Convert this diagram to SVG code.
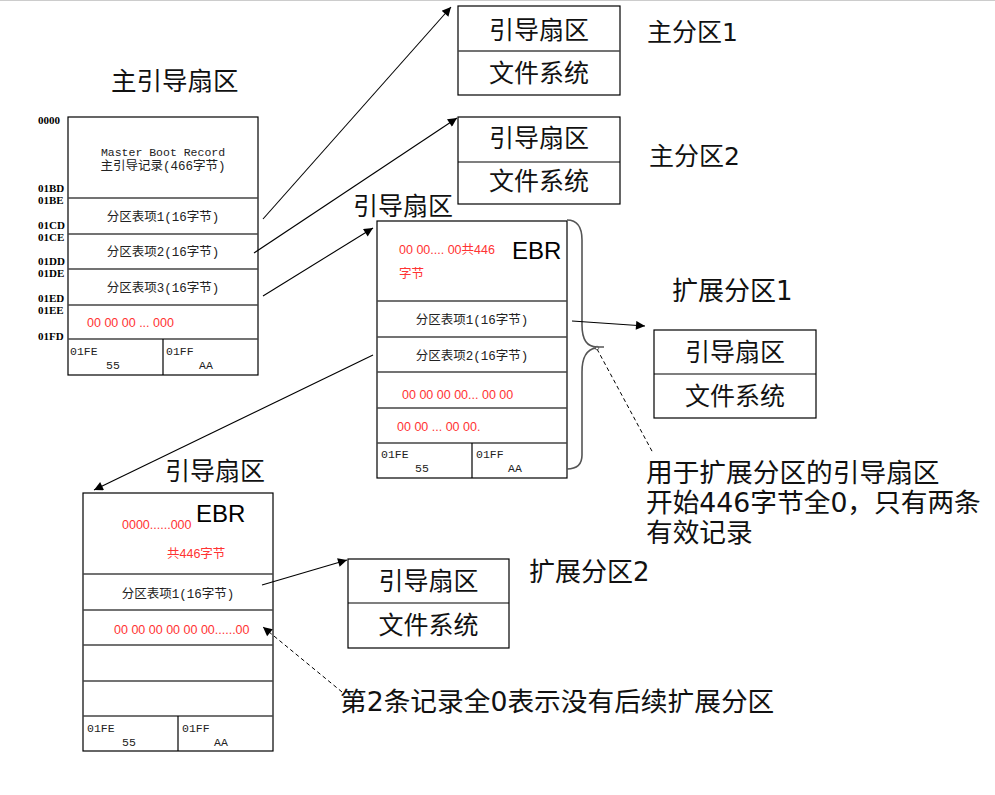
<svg xmlns="http://www.w3.org/2000/svg" width="995" height="795" viewBox="0 0 995 795">
<style>
.box{fill:#fff;stroke:#000;stroke-width:1.2}
.div{stroke:#444;stroke-width:1.5}
.vdiv{stroke:#000;stroke-width:1.2}
.big{font-family:"DejaVu Sans","Noto Sans CJK SC",sans-serif;font-size:25px;fill:#111}
.ext{font-family:"DejaVu Sans","Noto Sans CJK SC",sans-serif;font-size:26px;fill:#111}
.blab{font-family:"DejaVu Sans","Noto Sans CJK SC",sans-serif;font-size:25px;fill:#111;text-anchor:middle}
.note{font-family:"DejaVu Sans","Noto Sans CJK SC",sans-serif;font-size:26.7px;fill:#111}
.sm{font-family:"Liberation Mono","Noto Sans CJK SC",monospace;font-size:12.5px;fill:#222}
.smc{font-family:"Liberation Mono","Noto Sans CJK SC",monospace;font-size:12.5px;fill:#222;text-anchor:middle}
.mono{font-family:"Liberation Mono",monospace;font-size:11.5px;fill:#222}
.red{font-family:"Liberation Sans","Noto Sans CJK SC",sans-serif;font-size:12.5px;fill:#f33}
.addr{font-family:"Liberation Serif",serif;font-size:11px;font-weight:bold;fill:#000}
.ebr{font-family:"Liberation Sans",sans-serif;font-size:24px;fill:#000}
.conn{stroke:#000;stroke-width:1.1;fill:none}
.dash{stroke:#000;stroke-width:1;fill:none;stroke-dasharray:4,3}
.brace{stroke:#555;stroke-width:1.6;fill:none}
</style>
<defs>
<marker id="ah" viewBox="0 0 10 10" refX="10" refY="5" markerWidth="12" markerHeight="9" markerUnits="userSpaceOnUse" orient="auto">
<path d="M0,0 L10,5 L0,10 z" fill="#000"/>
</marker>
</defs>
<line x1="0" y1="0.5" x2="995" y2="0.5" stroke="#ccc" stroke-width="1"/>

<g id="mbr">
<text class="big" x="111" y="90" style="font-size:25.5px">主引导扇区</text>
<rect class="box" x="68" y="117" width="190" height="258"/>
<line class="div" x1="68" y1="198" x2="258" y2="198"/>
<line class="div" x1="68" y1="234" x2="258" y2="234"/>
<line class="div" x1="68" y1="269" x2="258" y2="269"/>
<line class="div" x1="68" y1="305" x2="258" y2="305"/>
<line class="div" x1="68" y1="339" x2="258" y2="339"/>
<line class="vdiv" x1="163" y1="339" x2="163" y2="375"/>
<text class="mono" x="163" y="156" text-anchor="middle">Master Boot Record</text>
<text class="smc" x="163" y="170">主引导记录(466字节)</text>
<text class="smc" x="163" y="221">分区表项1(16字节)</text>
<text class="smc" x="163" y="256">分区表项2(16字节)</text>
<text class="smc" x="163" y="292">分区表项3(16字节)</text>
<text class="red" x="87" y="327">00 00 00 ... 000</text>
<text class="mono" x="70" y="355">01FE</text>
<text class="mono" x="106" y="369">55</text>
<text class="mono" x="166" y="355">01FF</text>
<text class="mono" x="199" y="369">AA</text>
<text class="addr" x="38" y="124">0000</text>
<text class="addr" x="38" y="192">01BD</text>
<text class="addr" x="38" y="204">01BE</text>
<text class="addr" x="38" y="229">01CD</text>
<text class="addr" x="38" y="241">01CE</text>
<text class="addr" x="38" y="265">01DD</text>
<text class="addr" x="38" y="277">01DE</text>
<text class="addr" x="38" y="302">01ED</text>
<text class="addr" x="38" y="314">01EE</text>
<text class="addr" x="38" y="340">01FD</text>
</g>

<g id="primary1">
<rect class="box" x="458" y="6" width="162" height="89"/>
<line class="div" x1="458" y1="51" x2="620" y2="51"/>
<text class="blab" x="539" y="39">引导扇区</text>
<text class="blab" x="539" y="82">文件系统</text>
<text class="big" x="647" y="41">主分区1</text>
</g>

<g id="primary2">
<rect class="box" x="458" y="117" width="162" height="87"/>
<line class="vdiv" x1="458" y1="162" x2="620" y2="162"/>
<text class="blab" x="539" y="147">引导扇区</text>
<text class="blab" x="539" y="190">文件系统</text>
<text class="big" x="649" y="165">主分区2</text>
</g>

<g id="ebr1">
<text class="big" x="353" y="215">引导扇区</text>
<rect class="box" x="377" y="221" width="190" height="257"/>
<line class="div" x1="377" y1="301" x2="567" y2="301"/>
<line class="div" x1="377" y1="337" x2="567" y2="337"/>
<line class="div" x1="377" y1="372" x2="567" y2="372"/>
<line class="div" x1="377" y1="408" x2="567" y2="408"/>
<line class="div" x1="377" y1="443" x2="567" y2="443"/>
<line class="vdiv" x1="472" y1="443" x2="472" y2="478"/>
<text class="red" x="399" y="254">00 00.... 00共446</text>
<text class="red" x="399" y="278">字节</text>
<text class="ebr" x="512" y="259">EBR</text>
<text class="smc" x="472" y="324">分区表项1(16字节)</text>
<text class="smc" x="472" y="360">分区表项2(16字节)</text>
<text class="red" x="402" y="399">00 00 00 00... 00 00</text>
<text class="red" x="397" y="431">00 00 ... 00 00.</text>
<text class="mono" x="381" y="458">01FE</text>
<text class="mono" x="415" y="472">55</text>
<text class="mono" x="476" y="458">01FF</text>
<text class="mono" x="508" y="472">AA</text>
<path class="brace" d="M567,220 Q582,220 582,240 L582,325 Q582,347 597,347 L604,347 M596,348 Q582,350 582,372 L582,455 Q582,469 567,469"/>
</g>

<g id="ext1">
<text class="ext" x="672" y="300">扩展分区1</text>
<rect class="box" x="654" y="330" width="162" height="88"/>
<line class="vdiv" x1="654" y1="374" x2="816" y2="374"/>
<text class="blab" x="735" y="361">引导扇区</text>
<text class="blab" x="735" y="405">文件系统</text>
</g>

<g id="note1">
<text class="note" x="646" y="482">用于扩展分区的引导扇区</text>
<text class="note" x="646" y="512">开始446字节全0，只有两条</text>
<text class="note" x="646" y="542">有效记录</text>
</g>

<g id="ebr2">
<text class="big" x="165" y="480">引导扇区</text>
<rect class="box" x="83" y="493" width="190" height="258"/>
<line class="div" x1="83" y1="574" x2="273" y2="574"/>
<line class="div" x1="83" y1="610" x2="273" y2="610"/>
<line class="div" x1="83" y1="645" x2="273" y2="645"/>
<line class="div" x1="83" y1="681" x2="273" y2="681"/>
<line class="div" x1="83" y1="716" x2="273" y2="716"/>
<line class="vdiv" x1="178" y1="716" x2="178" y2="751"/>
<text class="red" x="122" y="529">0000......000</text>
<text class="red" x="167" y="558">共446字节</text>
<text class="ebr" x="196" y="522">EBR</text>
<text class="smc" x="178" y="598">分区表项1(16字节)</text>
<text class="red" x="114" y="634">00 00 00 00 00 00......00</text>
<text class="mono" x="87" y="732">01FE</text>
<text class="mono" x="122" y="746">55</text>
<text class="mono" x="182" y="732">01FF</text>
<text class="mono" x="214" y="746">AA</text>
</g>

<g id="ext2">
<rect class="box" x="348" y="559" width="161" height="89"/>
<line class="vdiv" x1="348" y1="603" x2="509" y2="603"/>
<text class="blab" x="428.5" y="590">引导扇区</text>
<text class="blab" x="428.5" y="634">文件系统</text>
<text class="ext" x="529" y="581">扩展分区2</text>
</g>

<g id="note2">
<text class="note" x="340" y="711">第2条记录全0表示没有后续扩展分区</text>
</g>

<g id="connectors">
<line class="conn" x1="263" y1="219" x2="451" y2="7" marker-end="url(#ah)"/>
<line class="conn" x1="254" y1="253" x2="457" y2="118" marker-end="url(#ah)"/>
<line class="conn" x1="263" y1="296" x2="373" y2="228" marker-end="url(#ah)"/>
<line class="conn" x1="373" y1="355" x2="94" y2="490" marker-end="url(#ah)"/>
<line class="conn" x1="572" y1="321" x2="645" y2="326" marker-end="url(#ah)"/>
<line class="conn" x1="262" y1="585" x2="347" y2="560" marker-end="url(#ah)"/>
<line class="dash" x1="597" y1="349" x2="653" y2="453"/>
<circle cx="597" cy="348" r="1.8" fill="none" stroke="#555" stroke-width="0.8"/>
<line class="dash" x1="342" y1="692" x2="263" y2="627" marker-end="url(#ah)"/>
</g>
</svg>
